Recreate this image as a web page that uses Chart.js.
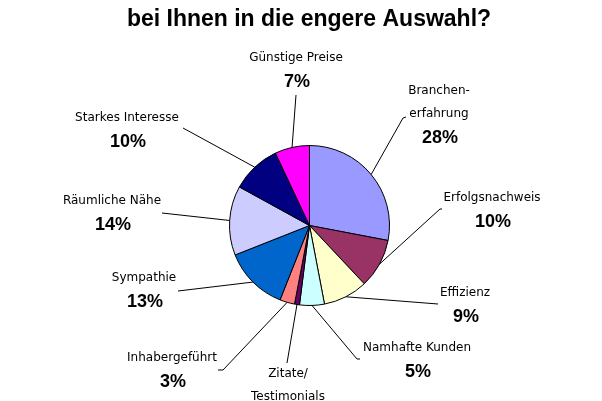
<!DOCTYPE html>
<html>
<head>
<meta charset="utf-8">
<script src="https://cdn.jsdelivr.net/npm/chart.js@4.4.1/dist/chart.umd.min.js"></script>
<style>
html,body{margin:0;padding:0;background:#fff;}
#wrap{width:602px;height:401px;position:relative;}
</style>
</head>
<body>
<div id="wrap"><canvas id="c" width="602" height="401"></canvas></div>
<script>
// ---- data ----
const titleLine = "bei Ihnen in die engere Auswahl?";
const categories = [
  ["Branchen-", "erfahrung"],
  ["Erfolgsnachweis"],
  ["Effizienz"],
  ["Namhafte Kunden"],
  ["Zitate/", "Testimonials"],
  ["Inhabergeführt"],
  ["Sympathie"],
  ["Räumliche Nähe"],
  ["Starkes Interesse"],
  ["Günstige Preise"]
];
const values = [28, 10, 9, 5, 1, 3, 13, 14, 10, 7];
const sliceColors = ["#9999FF", "#993366", "#FFFFCC", "#CCFFFF", "#660066",
                     "#FF8080", "#0066CC", "#CCCCFF", "#000080", "#FF00FF"];

// ---- layout of labels (centre x, first-line y) and leader line ends ----
const labelPos = [
  [439, 91], [492, 198], [465, 293], [417, 348], [288, 374],
  [172, 358], [144, 278], [112, 201], [127, 118], [296, 58]
];
const leaderEnds = [
  [[406, 117], [403, 118]],
  [[442, 209], [440, 209]],
  [[438, 304]],
  [[360, 359], [357, 359]],
  [[287, 363]],
  [[218, 370], [223, 370]],
  [[178, 291]],
  [[162, 213]],
  [[183, 128]],
  [[296, 95]]
];

const labelPlugin = {
  id: 'pieLabels',
  afterDraw(chart) {
    const ctx = chart.ctx;
    const meta = chart.getDatasetMeta(0);
    const total = values.reduce((a, b) => a + b, 0);
    ctx.save();
    // title
    ctx.fillStyle = '#000';
    ctx.textAlign = 'center';
    ctx.textBaseline = 'alphabetic';
    ctx.font = 'bold 23px "Liberation Sans", Arial, sans-serif';
    ctx.fillText(titleLine, 309, 26);
    ctx.textBaseline = 'middle';
    meta.data.forEach((arc, i) => {
      const p = arc.getProps(['x', 'y', 'startAngle', 'endAngle', 'outerRadius'], true);
      const mid = (p.startAngle + p.endAngle) / 2;
      const ex = p.x + Math.cos(mid) * p.outerRadius;
      const ey = p.y + Math.sin(mid) * p.outerRadius;
      // leader
      ctx.strokeStyle = '#000';
      ctx.lineWidth = 1;
      ctx.beginPath();
      const pts = leaderEnds[i];
      ctx.moveTo(pts[0][0], pts[0][1]);
      for (let k = 1; k < pts.length; k++) ctx.lineTo(pts[k][0], pts[k][1]);
      ctx.lineTo(ex, ey);
      ctx.stroke();
      // labels
      const [lx, ly] = labelPos[i];
      ctx.font = '12px "DejaVu Sans", Verdana, sans-serif';
      const lines = categories[i];
      lines.forEach((t, k) => ctx.fillText(t, lx, ly + k * 23));
      ctx.font = 'bold 18px "Liberation Sans", Arial, sans-serif';
      const pct = Math.round(values[i] / total * 100) + '%';
      ctx.fillText(pct, lx + 1, ly + (lines.length - 1) * 23 + 24);
    });
    ctx.restore();
  }
};

new Chart(document.getElementById('c'), {
  type: 'pie',
  data: {
    labels: categories.map(c => c.join('')),
    datasets: [{
      data: values,
      backgroundColor: sliceColors,
      borderColor: '#000000',
      borderWidth: 1
    }]
  },
  options: {
    responsive: false,
    animation: false,
    layout: { padding: { top: 145, bottom: 95, left: 229, right: 212 } },
    plugins: {
      legend: { display: false },
      tooltip: { enabled: false },
      title: { display: false }
    }
  },
  plugins: [labelPlugin]
});
</script>
</body>
</html>
